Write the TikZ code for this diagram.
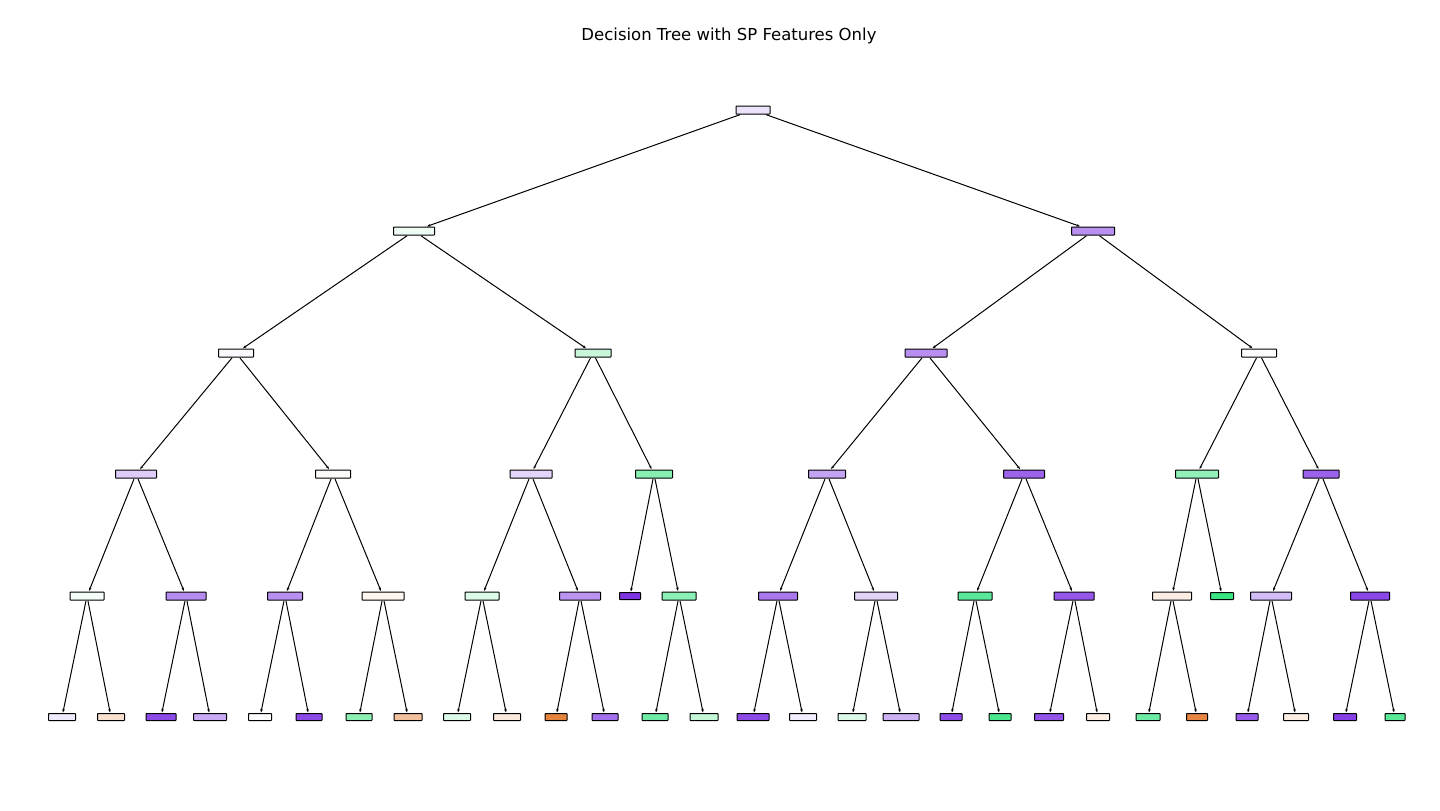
\documentclass[tikz,border=0pt]{standalone}
\usepackage{fontspec}
\setmainfont{DejaVu Sans}
\usetikzlibrary{arrows.meta}
\tikzset{
  tnode/.style={draw=black, line width=1pt, rounded corners=0.5pt, inner sep=0pt, minimum height=8pt},
  edge/.style={line width=1pt, -{Stealth[length=3.5pt,width=2.6pt]}, shorten >=0.5pt, shorten <=0.5pt},
}
\newcommand{\tn}[6]{\node[tnode, minimum width=#4pt, minimum height=#5pt, fill=#6] (#1) at (#2,#3) {};}
\begin{document}
\begin{tikzpicture}[x=1pt,y=-1pt]
\useasboundingbox[fill=white] (0,0) rectangle (1440,811);
\node[font=\fontsize{16.5}{19}\selectfont] (title) at (729,36) {Decision Tree with SP Features Only};
% level 0
\tn{n0}{753}{110}{34}{8}{{rgb,255:red,236;green,227;blue,251}}
% level 1
\tn{n1}{414}{231}{41}{8}{{rgb,255:red,238;green,252;blue,244}}
\tn{n2}{1093}{231}{43}{8}{{rgb,255:red,184;green,144;blue,240}}
% level 2
\tn{n3}{236}{353}{35}{8}{{rgb,255:red,251;green,249;blue,254}}
\tn{n4}{593}{353}{36}{8}{{rgb,255:red,200;green,246;blue,219}}
\tn{n5}{926}{353}{42}{8}{{rgb,255:red,184;green,143;blue,240}}
\tn{n6}{1259}{353}{35}{8}{{rgb,255:red,253;green,252;blue,255}}
% level 3
\tn{n7}{136}{474}{41}{8}{{rgb,255:red,221;green,204;blue,248}}
\tn{n8}{333}{474}{35}{8}{{rgb,255:red,254;green,250;blue,247}}
\tn{n9}{531}{474}{42}{8}{{rgb,255:red,227;green,213;blue,249}}
\tn{n10}{654}{474}{37}{8}{{rgb,255:red,136;green,239;blue,178}}
\tn{n11}{827}{474}{37}{8}{{rgb,255:red,196;green,163;blue,243}}
\tn{n12}{1024}{474}{41}{8}{{rgb,255:red,156;green,100;blue,235}}
\tn{n13}{1197}{474}{43}{8}{{rgb,255:red,146;green,241;blue,185}}
\tn{n14}{1321}{474}{36}{8}{{rgb,255:red,155;green,98;blue,235}}
% level 4
\tn{n15}{87}{596}{34}{8}{{rgb,255:red,244;green,253;blue,248}}
\tn{n16}{186}{596}{40}{8}{{rgb,255:red,182;green,140;blue,240}}
\tn{n17}{285}{596}{35}{8}{{rgb,255:red,184;green,144;blue,240}}
\tn{n18}{383}{596}{42}{8}{{rgb,255:red,253;green,245;blue,239}}
\tn{n19}{482}{596}{34}{8}{{rgb,255:red,221;green,251;blue,233}}
\tn{n20}{580}{596}{41}{8}{{rgb,255:red,187;green,148;blue,241}}
\tn{n21}{630}{596}{21}{7}{{rgb,255:red,125;green,53;blue,228}}
\tn{n22}{679}{596}{34}{8}{{rgb,255:red,139;green,240;blue,181}}
\tn{n23}{778}{596}{39}{8}{{rgb,255:red,169;green,119;blue,238}}
\tn{n24}{876}{596}{43}{8}{{rgb,255:red,226;green,212;blue,249}}
\tn{n25}{975}{596}{34}{8}{{rgb,255:red,90;green,233;blue,154}}
\tn{n26}{1074}{596}{40}{8}{{rgb,255:red,148;green,87;blue,234}}
\tn{n27}{1172}{596}{39}{8}{{rgb,255:red,251;green,237;blue,227}}
\tn{n28}{1222}{596}{23}{7}{{rgb,255:red,57;green,229;blue,129}}
\tn{n29}{1271}{596}{41}{8}{{rgb,255:red,211;green,189;blue,246}}
\tn{n30}{1370}{596}{39}{8}{{rgb,255:red,138;green,71;blue,231}}
% level 5
\tn{n31}{62}{717}{27}{7}{{rgb,255:red,240;green,235;blue,252}}
\tn{n32}{111}{717}{27}{7}{{rgb,255:red,249;green,225;blue,207}}
\tn{n33}{161}{717}{30}{7}{{rgb,255:red,140;green,74;blue,231}}
\tn{n34}{210}{717}{33}{7}{{rgb,255:red,201;green,171;blue,244}}
\tn{n35}{260}{717}{23}{7}{{rgb,255:red,253;green,252;blue,255}}
\tn{n36}{309}{717}{26}{7}{{rgb,255:red,140;green,74;blue,231}}
\tn{n37}{359}{717}{26}{7}{{rgb,255:red,140;green,240;blue,181}}
\tn{n38}{408}{717}{28}{7}{{rgb,255:red,242;green,192;blue,157}}
\tn{n39}{457}{717}{27}{7}{{rgb,255:red,220;green,250;blue,232}}
\tn{n40}{507}{717}{27}{7}{{rgb,255:red,250;green,233;blue,220}}
\tn{n41}{556}{717}{22}{7}{{rgb,255:red,229;green,131;blue,60}}
\tn{n42}{605}{717}{26}{7}{{rgb,255:red,161;green,112;blue,236}}
\tn{n43}{655}{717}{26}{7}{{rgb,255:red,110;green,236;blue,165}}
\tn{n44}{704}{717}{28}{7}{{rgb,255:red,195;green,247;blue,216}}
\tn{n45}{753}{717}{32}{7}{{rgb,255:red,140;green,74;blue,231}}
\tn{n46}{803}{717}{27}{7}{{rgb,255:red,243;green,238;blue,253}}
\tn{n47}{852}{717}{28}{7}{{rgb,255:red,220;green,250;blue,232}}
\tn{n48}{901}{717}{36}{7}{{rgb,255:red,204;green,177;blue,244}}
\tn{n49}{951}{717}{22}{7}{{rgb,255:red,141;green,76;blue,232}}
\tn{n50}{1000}{717}{22}{7}{{rgb,255:red,74;green,231;blue,141}}
\tn{n51}{1049}{717}{29}{7}{{rgb,255:red,146;green,84;blue,233}}
\tn{n52}{1098}{717}{23}{7}{{rgb,255:red,252;green,239;blue,230}}
\tn{n53}{1148}{717}{24}{7}{{rgb,255:red,110;green,236;blue,165}}
\tn{n54}{1197}{717}{21}{7}{{rgb,255:red,230;green,134;blue,66}}
\tn{n55}{1247}{717}{22}{7}{{rgb,255:red,150;green,92;blue,233}}
\tn{n56}{1296}{717}{25}{7}{{rgb,255:red,251;green,238;blue,228}}
\tn{n57}{1345}{717}{23}{7}{{rgb,255:red,133;green,64;blue,230}}
\tn{n58}{1395}{717}{20}{7}{{rgb,255:red,89;green,233;blue,153}}
% edges
\foreach \p/\c in {n0/n1,n0/n2,n1/n3,n1/n4,n2/n5,n2/n6,
  n3/n7,n3/n8,n4/n9,n4/n10,n5/n11,n5/n12,n6/n13,n6/n14,
  n7/n15,n7/n16,n8/n17,n8/n18,n9/n19,n9/n20,n10/n21,n10/n22,
  n11/n23,n11/n24,n12/n25,n12/n26,n13/n27,n13/n28,n14/n29,n14/n30,
  n15/n31,n15/n32,n16/n33,n16/n34,n17/n35,n17/n36,n18/n37,n18/n38,
  n19/n39,n19/n40,n20/n41,n20/n42,n22/n43,n22/n44,
  n23/n45,n23/n46,n24/n47,n24/n48,n25/n49,n25/n50,n26/n51,n26/n52,
  n27/n53,n27/n54,n29/n55,n29/n56,n30/n57,n30/n58}
  \draw[edge] (\p) -- (\c);
\end{tikzpicture}
\end{document}
